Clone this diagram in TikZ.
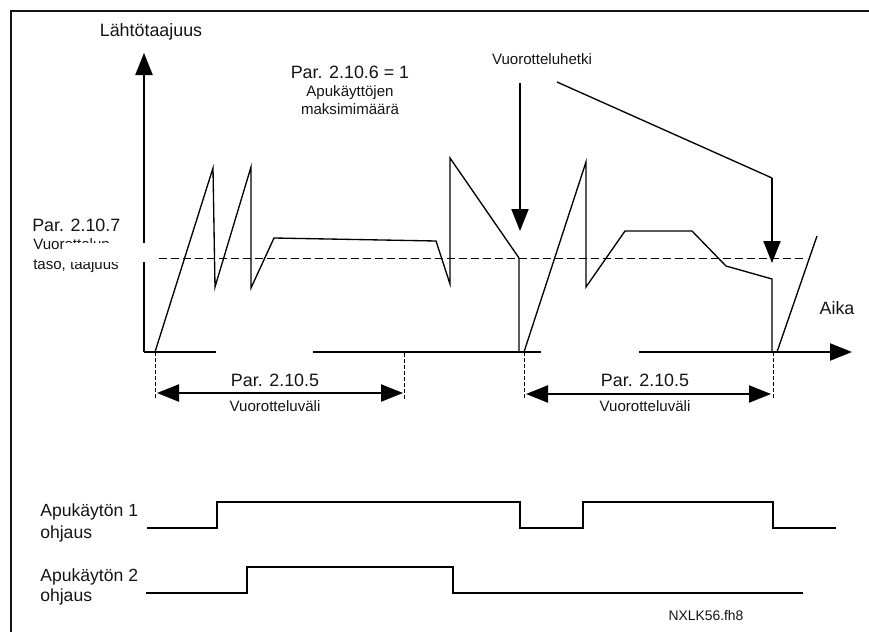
\documentclass[tikz,border=0pt]{standalone}
\usepackage{fontspec}
\setmainfont{Liberation Sans}
\usepackage{xcolor}
\definecolor{swapink}{RGB}{20,20,20}
\usepackage{tikz}
\usetikzlibrary{arrows.meta,positioning}
\tikzset{
  swap frame/.style={line width=1.5pt, draw=swapink},
  swap axis/.style={line width=1.5pt, -{Triangle[length=16.5pt,width=12.8pt]}},
  swap curve/.style={line width=1pt, line join=miter},
  swap pointer/.style={line width=1.4pt, -{Triangle[length=16.5pt,width=12.8pt]}},
  swap level/.style={line width=0.7pt, dash pattern=on 6pt off 3pt},
  swap guide/.style={line width=0.6pt, dash pattern=on 3pt off 1.5pt},
  swap span/.style={line width=1.5pt, {Triangle[length=16.5pt,width=12.8pt]}-{Triangle[length=16.5pt,width=12.8pt]}},
  swap signal/.style={line width=1.5pt, line join=miter},
  big label/.style={font=\fontsize{13.4}{16}\selectfont, inner sep=0pt, text=swapink},
  small label/.style={font=\fontsize{11.3}{13.5}\selectfont, inner sep=0pt, align=center, text=swapink},
}

\begin{document}
\begin{tikzpicture}[x=0.75pt, y=-0.75pt]
  \useasboundingbox (0,0) rectangle (869,632);
  \draw[swap frame] (869,11) -- (11,11) -- (11,632);
  % labels
  \node[big label] (ylab) at (151,32) {Lähtötaajuus};
  \node[big label] (par6) at (350,72) {Par. 2.10.6 = 1};
  \node[small label] (maxn) at (350,100) {Apukäyttöjen\\maksimimäärä};
  \node[small label] (hetki) at (542,59) {Vuorotteluhetki};
  \node[big label] (aika) at (837,308) {Aika};
  \node[big label, anchor=west] (par7) at (32,225) {Par. 2.10.7};
  \node[small label, anchor=west, align=left, font=\fontsize{11.3}{15}\selectfont] (taso) at (33,256) {Vuorottelun\\taso, taajuus};
  % axes
  \coordinate (o) at (144,352); \coordinate (ytip) at (144,53); \coordinate (xtip) at (852,352);
  \draw[swap axis] (o) -- (ytip);
  \draw[line width=1.5pt] (o) -- (216,352); \draw[line width=1.5pt] (313,352) -- (541,352); \draw[swap axis] (639,352) -- (xtip);
  \fill[white] (62,243) rectangle (151,262);
  \draw[swap level] (159,258) -- (807,258);
  % output frequency
  \draw[swap curve] (155,352) -- (213,168) -- (215,287) -- (251,167) -- (251,288) -- (274,238) -- (436,241) -- (450,284) -- (450,158) -- (519,258) -- (519,352);
  \draw[swap curve] (524,352) -- (586,162) -- (586,287) -- (625,231) -- (692,231) -- (726,266) -- (772,279) -- (772,352);
  \draw[swap curve] (777,352) -- (817,236);
  % autochange moments
  \coordinate (h1) at (520,83); \coordinate (h2) at (557,82); \coordinate (bend) at (772,178);
  \coordinate (t1) at (520,231); \coordinate (t2) at (772,263);
  \draw[swap pointer] (h1) -- (t1);
  \draw[line width=1pt] (h2) -- (bend); \draw[swap pointer] (bend) -- (t2);
  % intervals
  \draw[swap guide] (155,352) -- (155,400); \draw[swap guide] (404,353) -- (404,400);
  \draw[swap guide] (524,352) -- (524,400); \draw[swap guide] (773,352) -- (773,400);
  \coordinate (s1a) at (157,393); \coordinate (s1b) at (403,393);
  \coordinate (s2a) at (526,394); \coordinate (s2b) at (771,394);
  \draw[swap span] (s1a) -- (s1b); \draw[swap span] (s2a) -- (s2b);
  \node[big label] (p5a) at (275,380) {Par. 2.10.5}; \node[small label] (va) at (275,406) {Vuorotteluväli};
  \node[big label] (p5b) at (645,380) {Par. 2.10.5}; \node[small label] (vb) at (645,406) {Vuorotteluväli};
  % control signals
  \node[big label, anchor=west, align=left, font=\fontsize{13.2}{17}\selectfont] (aux1) at (40,523) {Apukäytön 1\\ohjaus};
  \node[big label, anchor=west, align=left, font=\fontsize{13.2}{15}\selectfont] (aux2) at (40,587) {Apukäytön 2\\ohjaus};
  \draw[swap signal] (147,528) -- (217,528) -- (217,502) -- (520,502) -- (520,528) -- (583,528) -- (583,502) -- (773,502) -- (773,528) -- (836,528);
  \draw[swap signal] (146,593) -- (247,593) -- (247,567) -- (453,567) -- (453,593) -- (803,593);
  \node[font=\fontsize{10.4}{12}\selectfont, inner sep=0pt, text=swapink] (code) at (706,616) {NXLK56.fh8};
\end{tikzpicture}
\end{document}
